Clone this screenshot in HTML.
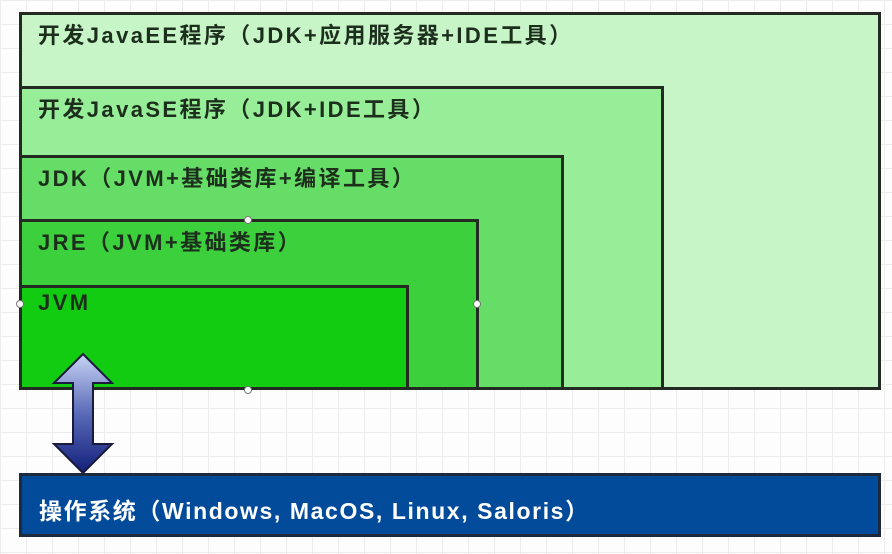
<!DOCTYPE html>
<html><head><meta charset="utf-8"><style>
body{margin:0;width:892px;height:554px;overflow:hidden;position:relative;
background-color:#fdfdfd;
background-image:linear-gradient(#ececec 1px,transparent 1px),linear-gradient(90deg,#ececec 1px,transparent 1px);
background-size:26px 24px;
font-family:"Liberation Sans","Noto Sans CJK SC",sans-serif;}
.b{position:absolute;box-sizing:border-box;border:3px solid #222a22;}
.t{position:absolute;left:16px;font-weight:bold;font-size:22px;letter-spacing:2.4px;color:#1c2e1c;white-space:nowrap;}
.h{position:absolute;width:8px;height:8px;border-radius:50%;background:#fff;border:1px solid #777;box-sizing:border-box;}
</style></head><body>
<div class="b" style="left:19px;top:12px;width:862px;height:378px;background:#c8f5c8"><div class="t" style="top:3px">开发JavaEE程序（JDK+应用服务器+IDE工具）</div></div>
<div class="b" style="left:19px;top:86px;width:645px;height:304px;background:#98ee98"><div class="t" style="top:3px">开发JavaSE程序（JDK+IDE工具）</div></div>
<div class="b" style="left:19px;top:155px;width:545px;height:235px;background:#66dd66"><div class="t" style="top:3px">JDK（JVM+基础类库+编译工具）</div></div>
<div class="b" style="left:19px;top:219px;width:460px;height:171px;background:#3dd03d"><div class="t" style="top:3px">JRE（JVM+基础类库）</div></div>
<div class="b" style="left:19px;top:285px;width:390px;height:105px;background:#12cc12"><div class="t" style="top:2px">JVM</div></div>
<div class="h" style="left:244px;top:216px"></div>
<div class="h" style="left:473px;top:300px"></div>
<div class="h" style="left:16px;top:300px"></div>
<div class="h" style="left:244px;top:386px"></div>
<svg style="position:absolute;left:0;top:0" width="892" height="554">
<defs><linearGradient id="g" x1="0" y1="0" x2="0" y2="1"><stop offset="0" stop-color="#c8d4f4"/><stop offset="0.5" stop-color="#5a6ab8"/><stop offset="1" stop-color="#12207a"/></linearGradient></defs>
<polygon points="83,354 112,383 93,383 93,444 112,444 83,473 54,444 73,444 73,383 54,383" fill="url(#g)" stroke="#1a1a3a" stroke-width="2"/>
</svg>
<div class="b" style="left:19px;top:473px;width:862px;height:64px;background:#024b9a;border-color:#1d2a3d">
<div style="position:absolute;left:17px;top:16px;font-weight:bold;font-size:23px;letter-spacing:1.6px;color:#fff;white-space:nowrap">操作系统（Windows, MacOS, Linux, Saloris）</div></div>
</body></html>
